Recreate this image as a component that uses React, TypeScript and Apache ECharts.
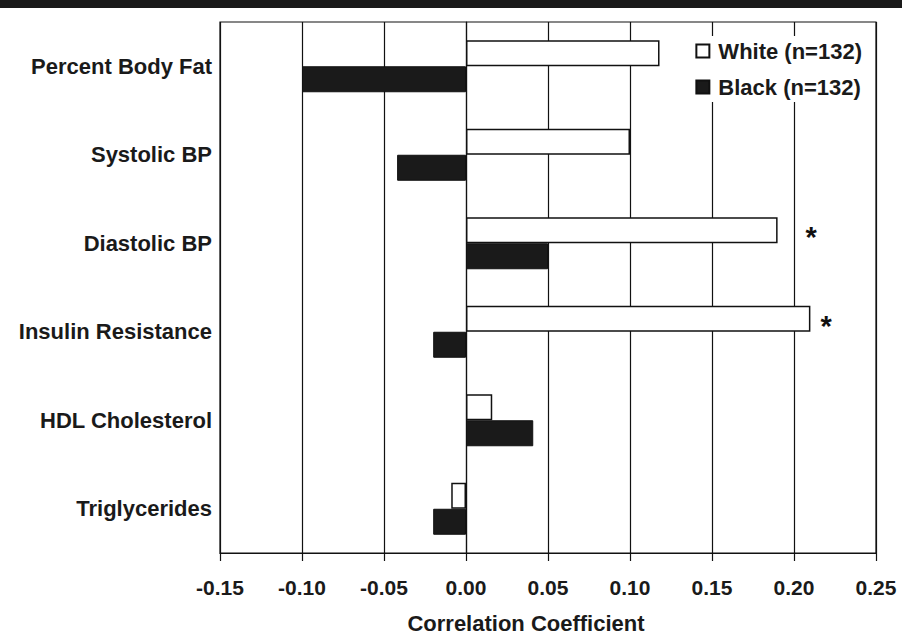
import React, { useEffect, useRef } from "react";
import * as echarts from "echarts";

const categories = [
  "Percent Body Fat",
  "Systolic BP",
  "Diastolic BP",
  "Insulin Resistance",
  "HDL Cholesterol",
  "Triglycerides",
];
const whiteValues = [0.118, 0.1, 0.19, 0.21, 0.016, -0.009];
const blackValues = [-0.1, -0.042, 0.05, -0.02, 0.041, -0.02];
const significance = ["", "", "*", "*", "", ""];
const starDistance = [0, 0, 28, 10, 0, 0];
const seriesNames = ["White (n=132)", "Black (n=132)"];
const axisTitle = "Correlation Coefficient";
const FONT = "'Liberation Sans', Arial, sans-serif";

export default function App() {
  const ref = useRef<HTMLDivElement>(null);
  useEffect(() => {
    document.body.style.margin = "0";
    const chart = echarts.init(ref.current!, null, { renderer: "svg" });
    chart.setOption({
      animation: false,
      backgroundColor: "#fff",
      textStyle: { fontFamily: FONT },
      graphic: [
        { type: "rect", shape: { x: 0, y: 0, width: 902, height: 8 }, style: { fill: "#1a1a1a" } },
        {
          type: "text",
          x: 526,
          y: 623,
          style: {
            text: axisTitle,
            textAlign: "center",
            textVerticalAlign: "middle",
            fontSize: 22,
            fontWeight: "bold",
            fontFamily: FONT,
            fill: "#1a1a1a",
          },
        },
      ],
      grid: {
        left: 220,
        right: 26,
        top: 22,
        bottom: 83,
        show: true,
        borderColor: "#111",
        borderWidth: 1.2,
      },
      legend: {
        orient: "vertical",
        right: 34,
        top: 36,
        itemWidth: 13,
        itemHeight: 13,
        itemGap: 14,
        icon: "rect",
        backgroundColor: "#fff",
        padding: [4, 6, 4, 6],
        textStyle: { fontSize: 22, fontWeight: "bold", color: "#1a1a1a", fontFamily: FONT, padding: [0, 0, 0, 4] },
        data: seriesNames,
      },
      xAxis: {
        type: "value",
        min: -0.15,
        max: 0.25,
        interval: 0.05,
        axisLine: { show: true, lineStyle: { color: "#111", width: 1.2 } },
        axisTick: { show: true, length: 8, lineStyle: { color: "#111", width: 1.2 } },
        axisLabel: {
          fontSize: 21,
          fontWeight: "bold",
          color: "#1a1a1a",
          margin: 24,
          fontFamily: FONT,
          formatter: (v: number) => v.toFixed(2),
        },
        splitLine: { show: true, lineStyle: { color: "#111", width: 1.2 } },
      },
      yAxis: {
        type: "category",
        data: categories,
        inverse: true,
        axisLine: { show: true, lineStyle: { color: "#111", width: 1.2 } },
        axisTick: { show: false },
        axisLabel: { fontSize: 22, fontWeight: "bold", color: "#1a1a1a", margin: 8, fontFamily: FONT },
        splitLine: { show: false },
      },
      series: [
        {
          name: seriesNames[0],
          type: "bar",
          barWidth: 26,
          barGap: "0%",
          itemStyle: { color: "#fff", borderColor: "#111", borderWidth: 1.5 },
          data: whiteValues.map((v, i) => ({
            value: v,
            label: {
              show: significance[i] !== "",
              formatter: significance[i],
              position: "right",
              distance: starDistance[i],
              fontSize: 29,
              fontWeight: "bold",
              color: "#111",
              offset: [0, 7],
            },
          })),
        },
        {
          name: seriesNames[1],
          type: "bar",
          barWidth: 26,
          barGap: "0%",
          itemStyle: { color: "#1a1a1a", borderColor: "#111", borderWidth: 1 },
          data: blackValues,
        },
      ],
    });
    return () => chart.dispose();
  }, []);
  return <div ref={ref} style={{ width: 902, height: 636 }} />;
}
